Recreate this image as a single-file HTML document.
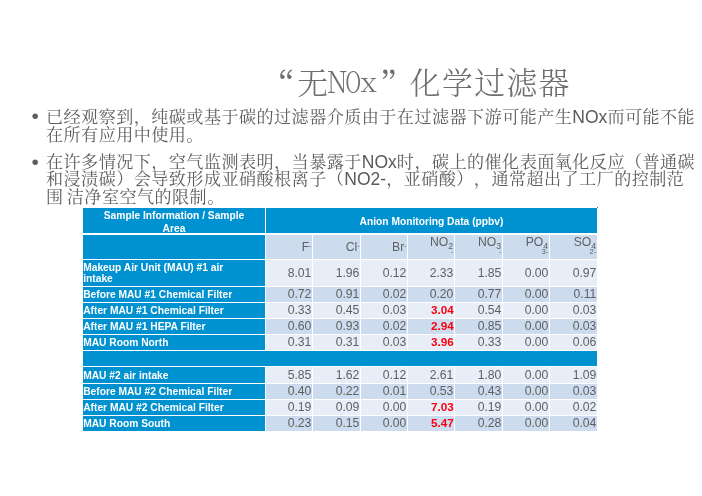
<!DOCTYPE html>
<html lang="zh">
<head>
<meta charset="utf-8">
<title>“无NOx”化学过滤器</title>
<style>
html,body{margin:0;padding:0;background:#fff;}
body{width:702px;height:496px;position:relative;overflow:hidden;font-family:"Liberation Sans","Noto Serif CJK SC",sans-serif;}
.title{position:absolute;left:264.3px;top:58.3px;font-family:"Noto Serif CJK SC","Liberation Serif",serif;font-weight:300;font-size:30.8px;line-height:46px;color:#6e6e6e;white-space:nowrap;}
.title span{display:inline-block;width:32.2px;text-align:center;}
.title span.l{width:16.1px;display:inline-flex;justify-content:center;}
.title .l i{display:inline-block;font-style:normal;transform-origin:50% 78%;}
.title .q1,.title .q2{position:relative;top:1.3px;}
.title .q1 i,.title .q2 i{font-style:normal;display:inline-block;transform:scale(1.12);}
.title .q1{text-align:right;left:-1.5px;}
.title .q1 i{transform-origin:100% 30%;}
.title .q2{text-align:left;left:3px;}
.title .q2 i{transform-origin:0% 30%;}
.p{position:absolute;left:46px;width:660px;font-family:"Liberation Sans","Noto Serif CJK SC",sans-serif;font-weight:400;font-size:17.1px;letter-spacing:0.45px;line-height:17.8px;color:#5e5e5e;white-space:nowrap;text-spacing-trim:space-all;}
.p b{font-weight:400;font-family:"Liberation Sans",sans-serif;font-size:17.55px;letter-spacing:0;color:#5a5a5a;}
.bul{position:absolute;left:31.5px;font-size:21px;color:#5e5e5e;font-family:"Liberation Sans",sans-serif;line-height:16px;}
.c{position:absolute;box-sizing:border-box;overflow:visible;font-family:"Liberation Sans",sans-serif;}
.h{background:#0091d0;color:#fff;font-weight:bold;font-size:10.24px;line-height:13.2px;}
.hc{display:flex;align-items:center;justify-content:center;text-align:center;}
.hc span{position:relative;top:1.4px;}
.hl{display:flex;align-items:center;padding-left:0.2px;white-space:nowrap;line-height:11.6px;}
.hl span{position:relative;top:0.4px;}
.d{font-size:12.2px;color:#606060;text-align:right;}
.dv{display:flex;align-items:center;justify-content:flex-end;padding-right:0.6px;}
.dv span{position:relative;top:-0.5px;}
.sh{display:flex;align-items:center;justify-content:flex-end;padding-right:0.4px;}
.sh2 .el{position:absolute;right:0.8px;top:0.2px;line-height:14px;white-space:nowrap;}
.sh2 .chg{position:absolute;right:0.8px;top:12.6px;font-size:7.6px;line-height:8px;white-space:nowrap;}
.d sup{font-size:7px;vertical-align:3px;line-height:0;}
.d sub{font-size:8.8px;vertical-align:-2.9px;line-height:0;}
.r{color:#fa0010;font-weight:bold;font-size:11.7px;padding-right:0.2px;}
.dv.r span{top:-1px;}
</style>
</head>
<body>
<div class="title"><span class="q1"><i>“</i></span><span>无</span><span class="l"><i style="transform:translateY(-1.5px) scale(.84,1)">N</i></span><span class="l"><i style="transform:translate(0.6px,-1.5px) scale(.68,1)">O</i></span><span class="l"><i style="transform:translateY(-1.5px) scale(.95,.86)">x</i></span><span class="q2"><i>”</i></span><span>化</span><span>学</span><span>过</span><span>滤</span><span>器</span></div>
<div class="bul" style="top:107.5px">•</div>
<div class="p" style="top:108.8px">已经观察到，纯碳或基于碳的过滤器介质由于在过滤器下游可能产生<b>NOx</b>而可能不能<br>在所有应用中使用。</div>
<div class="bul" style="top:153.5px">•</div>
<div class="p" style="top:153.6px">在许多情况下，空气监测表明，当暴露于<b>NOx</b>时，碳上的催化表面氧化反应（普通碳<br>和浸渍碳）会导致形成亚硝酸根离子（<b>NO2-</b>，亚硝酸），通常超出了工厂的控制范<br>围<span style="letter-spacing:-1.5px"> </span>洁净室空气的限制。</div>
<div id="dot" style="position:absolute;left:597px;top:207px;width:1px;height:1px;background:#0091d0"></div>
<!--TS-->
<div class="c h hc" style="left:83px;top:208px;width:182px;height:25px;"><span>Sample Information / Sample<br>Area</span></div>
<div class="c h hc" style="left:266px;top:208px;width:331px;height:25px;"><span style="top:0.9px">Anion Monitoring Data (ppbv)</span></div>
<div class="c h" style="left:83px;top:235px;width:182px;height:24px;"></div>
<div class="c d sh" style="left:266px;top:235px;width:46px;height:24px;background:#ccdcee;"><span>F<sup>-</sup></span></div>
<div class="c d sh" style="left:313px;top:235px;width:47px;height:24px;background:#ccdcee;"><span>Cl<sup>-</sup></span></div>
<div class="c d sh" style="left:361px;top:235px;width:46px;height:24px;background:#ccdcee;"><span>Br<sup>-</sup></span></div>
<div class="c d sh2" style="left:408px;top:235px;width:46px;height:24px;background:#ccdcee;"><span class="el">NO<sub>2</sub></span><span class="chg">-</span></div>
<div class="c d sh2" style="left:455px;top:235px;width:47px;height:24px;background:#ccdcee;"><span class="el">NO<sub>3</sub></span><span class="chg">-</span></div>
<div class="c d sh2" style="left:503px;top:235px;width:46px;height:24px;background:#ccdcee;"><span class="el">PO<sub>4</sub></span><span class="chg">3-</span></div>
<div class="c d sh2" style="left:550px;top:235px;width:47px;height:24px;background:#ccdcee;"><span class="el">SO<sub>4</sub></span><span class="chg">2-</span></div>
<div class="c h hl" style="left:83px;top:260px;width:182px;height:26px;"><span>Makeup Air Unit (MAU) #1 air<br>intake</span></div>
<div class="c d dv" style="left:266px;top:260px;width:46px;height:26px;background:#e8eef7;"><span style="top:-0.4px">8.01</span></div>
<div class="c d dv" style="left:313px;top:260px;width:47px;height:26px;background:#e8eef7;"><span style="top:-0.4px">1.96</span></div>
<div class="c d dv" style="left:361px;top:260px;width:46px;height:26px;background:#e8eef7;"><span style="top:-0.4px">0.12</span></div>
<div class="c d dv" style="left:408px;top:260px;width:46px;height:26px;background:#e8eef7;"><span style="top:-0.4px">2.33</span></div>
<div class="c d dv" style="left:455px;top:260px;width:47px;height:26px;background:#e8eef7;"><span style="top:-0.4px">1.85</span></div>
<div class="c d dv" style="left:503px;top:260px;width:46px;height:26px;background:#e8eef7;"><span style="top:-0.4px">0.00</span></div>
<div class="c d dv" style="left:550px;top:260px;width:47px;height:26px;background:#e8eef7;"><span style="top:-0.4px">0.97</span></div>
<div class="c h hl" style="left:83px;top:287px;width:182px;height:15px;"><span>Before MAU #1 Chemical Filter</span></div>
<div class="c d dv" style="left:266px;top:287px;width:46px;height:15px;background:#ccdcee;"><span>0.72</span></div>
<div class="c d dv" style="left:313px;top:287px;width:47px;height:15px;background:#ccdcee;"><span>0.91</span></div>
<div class="c d dv" style="left:361px;top:287px;width:46px;height:15px;background:#ccdcee;"><span>0.02</span></div>
<div class="c d dv" style="left:408px;top:287px;width:46px;height:15px;background:#ccdcee;"><span>0.20</span></div>
<div class="c d dv" style="left:455px;top:287px;width:47px;height:15px;background:#ccdcee;"><span>0.77</span></div>
<div class="c d dv" style="left:503px;top:287px;width:46px;height:15px;background:#ccdcee;"><span>0.00</span></div>
<div class="c d dv" style="left:550px;top:287px;width:47px;height:15px;background:#ccdcee;"><span>0.11</span></div>
<div class="c h hl" style="left:83px;top:303px;width:182px;height:15px;"><span>After MAU #1 Chemical Filter</span></div>
<div class="c d dv" style="left:266px;top:303px;width:46px;height:15px;background:#e8eef7;"><span>0.33</span></div>
<div class="c d dv" style="left:313px;top:303px;width:47px;height:15px;background:#e8eef7;"><span>0.45</span></div>
<div class="c d dv" style="left:361px;top:303px;width:46px;height:15px;background:#e8eef7;"><span>0.03</span></div>
<div class="c d dv r" style="left:408px;top:303px;width:46px;height:15px;background:#e8eef7;"><span>3.04</span></div>
<div class="c d dv" style="left:455px;top:303px;width:47px;height:15px;background:#e8eef7;"><span>0.54</span></div>
<div class="c d dv" style="left:503px;top:303px;width:46px;height:15px;background:#e8eef7;"><span>0.00</span></div>
<div class="c d dv" style="left:550px;top:303px;width:47px;height:15px;background:#e8eef7;"><span>0.03</span></div>
<div class="c h hl" style="left:83px;top:319px;width:182px;height:15px;"><span>After MAU #1 HEPA Filter</span></div>
<div class="c d dv" style="left:266px;top:319px;width:46px;height:15px;background:#ccdcee;"><span>0.60</span></div>
<div class="c d dv" style="left:313px;top:319px;width:47px;height:15px;background:#ccdcee;"><span>0.93</span></div>
<div class="c d dv" style="left:361px;top:319px;width:46px;height:15px;background:#ccdcee;"><span>0.02</span></div>
<div class="c d dv r" style="left:408px;top:319px;width:46px;height:15px;background:#ccdcee;"><span>2.94</span></div>
<div class="c d dv" style="left:455px;top:319px;width:47px;height:15px;background:#ccdcee;"><span>0.85</span></div>
<div class="c d dv" style="left:503px;top:319px;width:46px;height:15px;background:#ccdcee;"><span>0.00</span></div>
<div class="c d dv" style="left:550px;top:319px;width:47px;height:15px;background:#ccdcee;"><span>0.03</span></div>
<div class="c h hl" style="left:83px;top:335px;width:182px;height:15px;"><span>MAU Room North</span></div>
<div class="c d dv" style="left:266px;top:335px;width:46px;height:15px;background:#e8eef7;"><span>0.31</span></div>
<div class="c d dv" style="left:313px;top:335px;width:47px;height:15px;background:#e8eef7;"><span>0.31</span></div>
<div class="c d dv" style="left:361px;top:335px;width:46px;height:15px;background:#e8eef7;"><span>0.03</span></div>
<div class="c d dv r" style="left:408px;top:335px;width:46px;height:15px;background:#e8eef7;"><span>3.96</span></div>
<div class="c d dv" style="left:455px;top:335px;width:47px;height:15px;background:#e8eef7;"><span>0.33</span></div>
<div class="c d dv" style="left:503px;top:335px;width:46px;height:15px;background:#e8eef7;"><span>0.00</span></div>
<div class="c d dv" style="left:550px;top:335px;width:47px;height:15px;background:#e8eef7;"><span>0.06</span></div>
<div class="c h" style="left:83px;top:351px;width:514px;height:15px;"></div>
<div class="c h hl" style="left:83px;top:367px;width:182px;height:16px;"><span>MAU #2 air intake</span></div>
<div class="c d dv" style="left:266px;top:367px;width:46px;height:16px;background:#e8eef7;"><span>5.85</span></div>
<div class="c d dv" style="left:313px;top:367px;width:47px;height:16px;background:#e8eef7;"><span>1.62</span></div>
<div class="c d dv" style="left:361px;top:367px;width:46px;height:16px;background:#e8eef7;"><span>0.12</span></div>
<div class="c d dv" style="left:408px;top:367px;width:46px;height:16px;background:#e8eef7;"><span>2.61</span></div>
<div class="c d dv" style="left:455px;top:367px;width:47px;height:16px;background:#e8eef7;"><span>1.80</span></div>
<div class="c d dv" style="left:503px;top:367px;width:46px;height:16px;background:#e8eef7;"><span>0.00</span></div>
<div class="c d dv" style="left:550px;top:367px;width:47px;height:16px;background:#e8eef7;"><span>1.09</span></div>
<div class="c h hl" style="left:83px;top:384px;width:182px;height:15px;"><span>Before MAU #2 Chemical Filter</span></div>
<div class="c d dv" style="left:266px;top:384px;width:46px;height:15px;background:#ccdcee;"><span>0.40</span></div>
<div class="c d dv" style="left:313px;top:384px;width:47px;height:15px;background:#ccdcee;"><span>0.22</span></div>
<div class="c d dv" style="left:361px;top:384px;width:46px;height:15px;background:#ccdcee;"><span>0.01</span></div>
<div class="c d dv" style="left:408px;top:384px;width:46px;height:15px;background:#ccdcee;"><span>0.53</span></div>
<div class="c d dv" style="left:455px;top:384px;width:47px;height:15px;background:#ccdcee;"><span>0.43</span></div>
<div class="c d dv" style="left:503px;top:384px;width:46px;height:15px;background:#ccdcee;"><span>0.00</span></div>
<div class="c d dv" style="left:550px;top:384px;width:47px;height:15px;background:#ccdcee;"><span>0.03</span></div>
<div class="c h hl" style="left:83px;top:400px;width:182px;height:15px;"><span>After MAU #2 Chemical Filter</span></div>
<div class="c d dv" style="left:266px;top:400px;width:46px;height:15px;background:#e8eef7;"><span>0.19</span></div>
<div class="c d dv" style="left:313px;top:400px;width:47px;height:15px;background:#e8eef7;"><span>0.09</span></div>
<div class="c d dv" style="left:361px;top:400px;width:46px;height:15px;background:#e8eef7;"><span>0.00</span></div>
<div class="c d dv r" style="left:408px;top:400px;width:46px;height:15px;background:#e8eef7;"><span>7.03</span></div>
<div class="c d dv" style="left:455px;top:400px;width:47px;height:15px;background:#e8eef7;"><span>0.19</span></div>
<div class="c d dv" style="left:503px;top:400px;width:46px;height:15px;background:#e8eef7;"><span>0.00</span></div>
<div class="c d dv" style="left:550px;top:400px;width:47px;height:15px;background:#e8eef7;"><span>0.02</span></div>
<div class="c h hl" style="left:83px;top:416px;width:182px;height:15px;"><span>MAU Room South</span></div>
<div class="c d dv" style="left:266px;top:416px;width:46px;height:15px;background:#ccdcee;"><span>0.23</span></div>
<div class="c d dv" style="left:313px;top:416px;width:47px;height:15px;background:#ccdcee;"><span>0.15</span></div>
<div class="c d dv" style="left:361px;top:416px;width:46px;height:15px;background:#ccdcee;"><span>0.00</span></div>
<div class="c d dv r" style="left:408px;top:416px;width:46px;height:15px;background:#ccdcee;"><span>5.47</span></div>
<div class="c d dv" style="left:455px;top:416px;width:47px;height:15px;background:#ccdcee;"><span>0.28</span></div>
<div class="c d dv" style="left:503px;top:416px;width:46px;height:15px;background:#ccdcee;"><span>0.00</span></div>
<div class="c d dv" style="left:550px;top:416px;width:47px;height:15px;background:#ccdcee;"><span>0.04</span></div>
<!--TE-->
</body>
</html>
